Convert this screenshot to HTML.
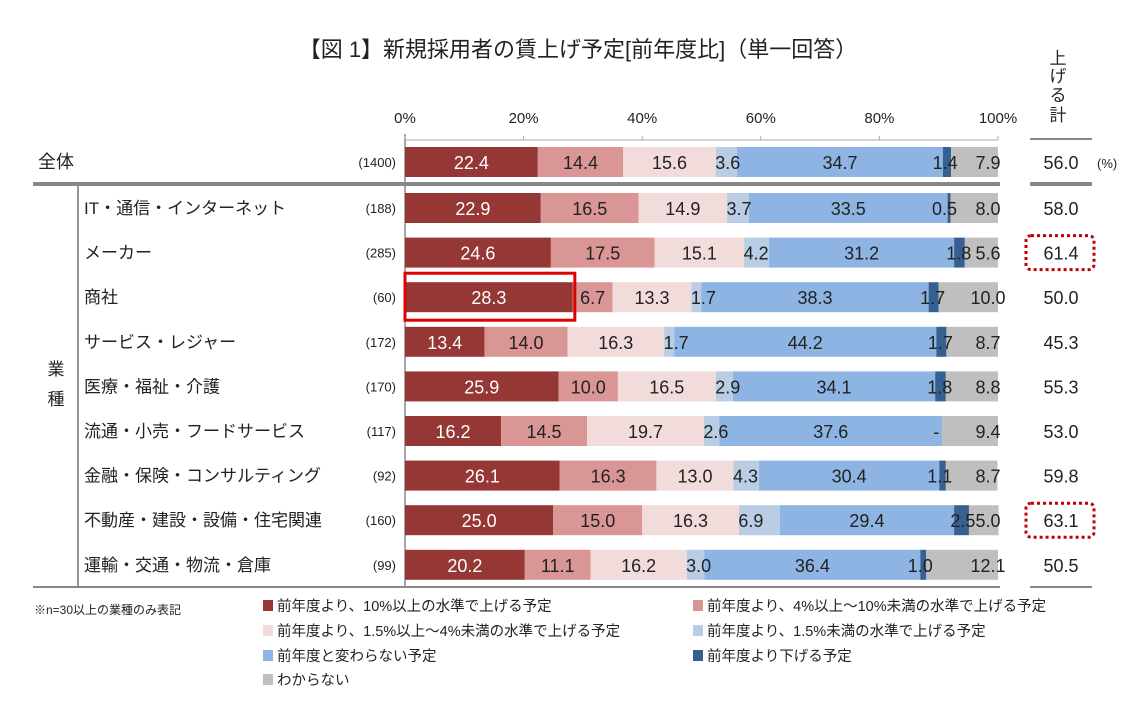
<!DOCTYPE html>
<html><head><meta charset="utf-8">
<style>
body{margin:0;background:#fff;width:1144px;height:709px;overflow:hidden;font-family:"Liberation Sans","Noto Sans CJK JP",sans-serif}
svg text{font-family:"Liberation Sans","Noto Sans CJK JP",sans-serif}
</style></head><body>
<svg id="c" width="1144" height="709">
<text x="578" y="57" text-anchor="middle" font-size="22" fill="#222">【図 1】新規採用者の賃上げ予定[前年度比]（単一回答）</text>
<g font-size="17" fill="#222" text-anchor="middle">
<text x="1058" y="64">上</text><text x="1058" y="82">げ</text><text x="1058" y="101">る</text><text x="1058" y="121">計</text>
</g>
<text x="1097" y="168" font-size="13" fill="#222">(%)</text>
<text x="34" y="614" font-size="12" fill="#222">※n=30以上の業種のみ表記</text>
<g font-size="17" fill="#222"><text x="56" y="375" text-anchor="middle">業</text><text x="56" y="405" text-anchor="middle">種</text></g>
</svg>
<script>
const categories=["全体","IT・通信・インターネット","メーカー","商社","サービス・レジャー","医療・福祉・介護","流通・小売・フードサービス","金融・保険・コンサルティング","不動産・建設・設備・住宅関連","運輸・交通・物流・倉庫"];
const sampleSizes=["(1400)","(188)","(285)","(60)","(172)","(170)","(117)","(92)","(160)","(99)"];
const s1=[22.4,22.9,24.6,28.3,13.4,25.9,16.2,26.1,25.0,20.2];
const s2=[14.4,16.5,17.5,6.7,14.0,10.0,14.5,16.3,15.0,11.1];
const s3=[15.6,14.9,15.1,13.3,16.3,16.5,19.7,13.0,16.3,16.2];
const s4=[3.6,3.7,4.2,1.7,1.7,2.9,2.6,4.3,6.9,3.0];
const s5=[34.7,33.5,31.2,38.3,44.2,34.1,37.6,30.4,29.4,36.4];
const s6=[1.4,0.5,1.8,1.7,1.7,1.8,0,1.1,2.5,1.0];
const s7=[7.9,8.0,5.6,10.0,8.7,8.8,9.4,8.7,5.0,12.1];
const totals=[56.0,58.0,61.4,50.0,45.3,55.3,53.0,59.8,63.1,50.5];
const xTicks=[0,20,40,60,80,100];
const seriesNames=["前年度より、10%以上の水準で上げる予定","前年度より、4%以上～10%未満の水準で上げる予定","前年度より、1.5%以上～4%未満の水準で上げる予定","前年度より、1.5%未満の水準で上げる予定","前年度と変わらない予定","前年度より下げる予定","わからない"];
const series=[s1,s2,s3,s4,s5,s6,s7];
const colors=["#953735","#d99694","#f2dcdb","#b9cde5","#8db4e2","#376092","#bfbfbf"];
const svg=document.getElementById('c');
const NS="http://www.w3.org/2000/svg";
const x0=405,x1=998;
const xs=v=>x0+(x1-x0)*v/100;
const yc=i=>162+(i===0?0:46+(i-1)*44.6);
function mk(t,a,p){const e=document.createElementNS(NS,t);for(const k in a)e.setAttribute(k,a[k]);(p||svg).appendChild(e);return e;}
let l;
l=mk('line',{x1:x0,y1:134,x2:x0,y2:587,stroke:'#888','stroke-width':1.5});


l=mk('line',{x1:x0,y1:140,x2:x1,y2:140,stroke:'#aaa','stroke-width':1});


xTicks.forEach(t=>{
 const tx=mk('text',{x:xs(t),y:123,'text-anchor':'middle','font-size':15,fill:'#222'});tx.textContent=t+'%';
 
 
 mk('line',{x1:xs(t),y1:136,x2:xs(t),y2:140,stroke:'#aaa'});
});
l=mk('line',{x1:33,y1:184,x2:1000,y2:184,stroke:'#888','stroke-width':4});


mk('line',{x1:1030,y1:184,x2:1092,y2:184,stroke:'#888','stroke-width':4});
mk('line',{x1:1030,y1:139,x2:1092,y2:139,stroke:'#888','stroke-width':2});
mk('line',{x1:78,y1:186,x2:78,y2:587,stroke:'#777','stroke-width':1.5});
l=mk('line',{x1:33,y1:587,x2:1000,y2:587,stroke:'#888','stroke-width':2});


mk('line',{x1:1030,y1:587,x2:1092,y2:587,stroke:'#888','stroke-width':2});
categories.forEach((c,i)=>{
 const y=yc(i);
 const g=mk('g',{});
 
 
 const lb=mk('text',{x:i===0?38:84,y:y+6,'font-size':i===0?18:17,fill:'#222'},g);lb.textContent=c;
 
 
 const n=mk('text',{x:396,y:y+5,'text-anchor':'end','font-size':13,fill:'#222'},g);n.textContent=sampleSizes[i];
 
 
 let acc=0;
 const labels=[];
 series.forEach((s,k)=>{
  const v=s[i];
  const r=mk('rect',{x:xs(acc),y:y-15,width:Math.max(0,xs(acc+v)-xs(acc)),height:30,fill:colors[k]},g);
  
  
  let cx=(xs(acc)+xs(acc+v))/2;
  if(k===3&&v<8)cx=xs(acc)+12;
  if(k===5)cx=xs(acc+v)-6;
  if(k===6)cx=x1-10;
  labels.push([cx,k,v]);
  acc+=v;
 });
 labels.forEach(([cx,k,v])=>{
  const tv=mk('text',{x:cx,y:y+7,'text-anchor':'middle','font-size':18,fill:k===0?'#fff':'#222'},g);
  tv.textContent=(k===5&&v===0)?'-':v.toFixed(1);
  
  
 });
 const tt=mk('text',{x:1061,y:y+7,'text-anchor':'middle','font-size':18,fill:'#222'},g);tt.textContent=totals[i].toFixed(1);
 
 
});
[2,8].forEach(i=>{const r=mk('rect',{x:1026,y:yc(i)-17,width:68,height:34,rx:5,fill:'none',stroke:'#c00000','stroke-width':3,'stroke-dasharray':'3 3'});
 
 });
const hb=mk('rect',{x:xs(0),y:yc(3)-24,width:xs(s1[3])-xs(0)+2,height:47,fill:'none',stroke:'#e00000','stroke-width':3});


const lp=[[263,606],[693,606],[263,631],[693,631],[263,656],[693,656],[263,680]];
seriesNames.forEach((n,k)=>{
 const g=mk('g',{});
 
 
 mk('rect',{x:lp[k][0],y:lp[k][1]-6,width:10,height:11,fill:colors[k]},g);
 const t=mk('text',{x:lp[k][0]+14,y:lp[k][1]+5,'font-size':14.5,fill:'#222'},g);t.textContent=n;
});
</script>
</body></html>
